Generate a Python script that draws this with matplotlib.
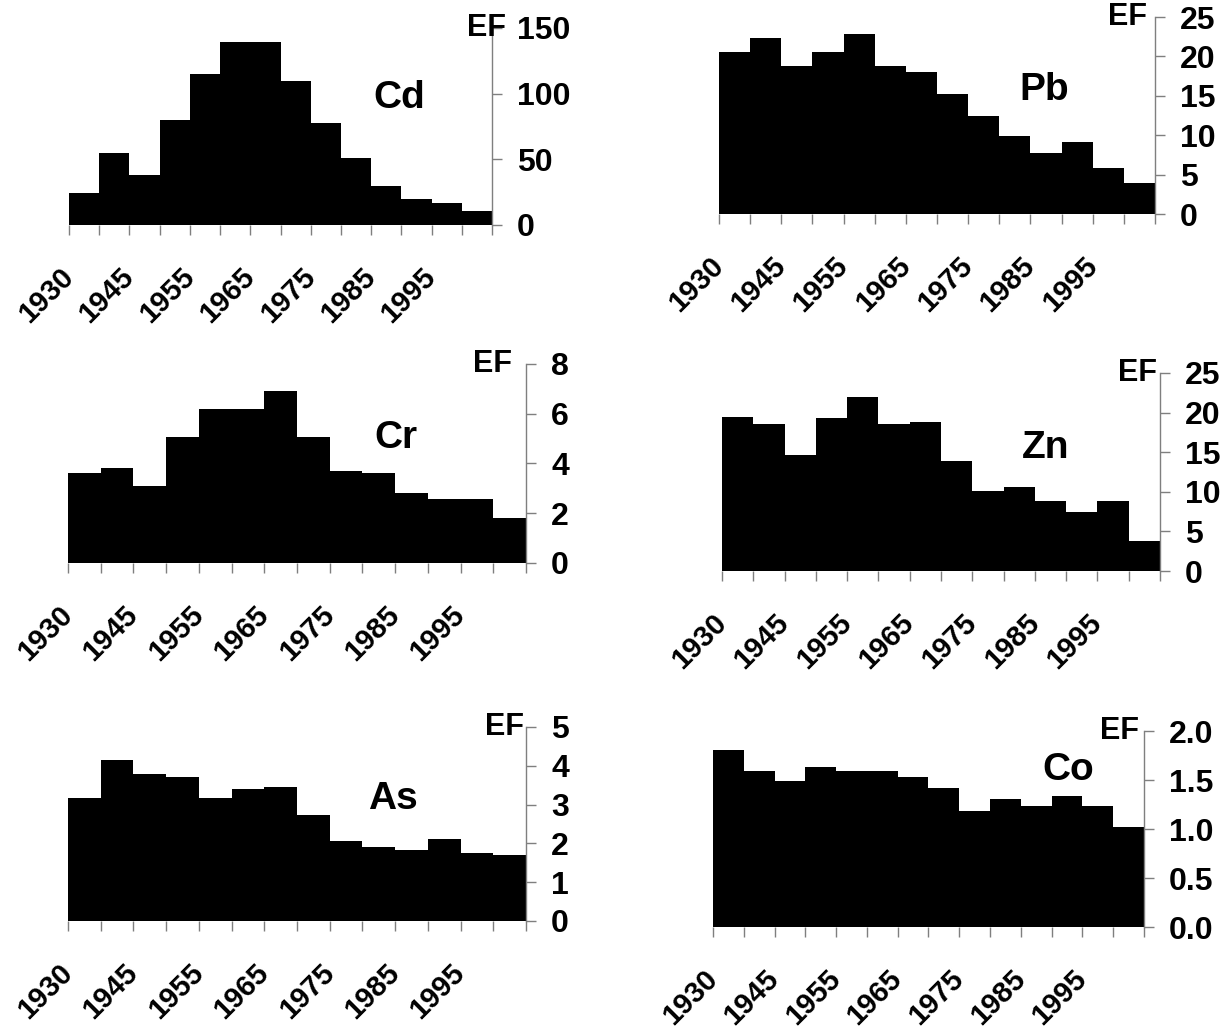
import matplotlib
matplotlib.use("Agg")
import matplotlib.pyplot as plt
from matplotlib.ticker import FormatStrFormatter

plt.rcParams['font.family'] = ['Liberation Sans', 'DejaVu Sans']
plt.rcParams['font.weight'] = 'bold'

# x axis: 14 bins, labels on every second bin edge
year_labels = ['1930', '1945', '1955', '1965', '1975', '1985', '1995']

# enrichment factors per bin
cd = [24, 55, 38, 80, 115, 139, 139, 110, 78, 51, 30, 19.5, 16.5, 10.5]
pb = [20.5, 22.3, 18.8, 20.5, 22.8, 18.8, 18.0, 15.2, 12.4, 9.9, 7.7, 9.2, 5.9, 3.9]
cr = [3.62, 3.8, 3.09, 5.07, 6.21, 6.21, 6.93, 5.07, 3.70, 3.62, 2.82, 2.59, 2.59, 1.79]
zn = [19.5, 18.5, 14.7, 19.3, 22.0, 18.5, 18.8, 13.9, 10.1, 10.6, 8.9, 7.4, 8.9, 3.8]
as_vals = [3.18, 4.16, 3.80, 3.70, 3.18, 3.40, 3.44, 2.72, 2.06, 1.90, 1.84, 2.10, 1.75, 1.70]
co = [1.81, 1.59, 1.49, 1.63, 1.59, 1.59, 1.53, 1.42, 1.18, 1.31, 1.24, 1.34, 1.24, 1.02]

elements = ['Cd', 'Pb', 'Cr', 'Zn', 'As', 'Co']
series = [cd, pb, cr, zn, as_vals, co]
y_max = [150, 25, 8, 25, 5, 2.0]
y_step = [50, 5, 2, 5, 1, 0.5]

# panel layout in figure fractions: left, bottom, width, height
panel_pos = [
    [0.0564, 0.7820, 0.3456, 0.1909],
    [0.5874, 0.7926, 0.3562, 0.1909],
    [0.0556, 0.4545, 0.3742, 0.1928],
    [0.5899, 0.4467, 0.3578, 0.1919],
    [0.0556, 0.1076, 0.3742, 0.1880],
    [0.5825, 0.1017, 0.3521, 0.1899],
]
# element name position (axes fraction) and EF offset (pixels)
name_pos = [(0.78, 0.645), (0.745, 0.63), (0.715, 0.63), (0.74, 0.62), (0.71, 0.63), (0.825, 0.80)]
ef_dx = [14, -8, -14, -3, -2, -5]

XTICK_SIZE = 21
YTICK_SIZE = 23
EF_SIZE = 22
NAME_SIZE = 28
GREY = '#7f7f7f'


def draw_panel(fig, pos, values, name, npos, ymax, ystep, dx):
    ax = fig.add_axes(pos)
    n = len(values)
    edges = list(range(n + 1))
    ax.bar(edges[:-1], values, width=1, align='edge', color='black', linewidth=0)
    ax.set_xlim(0, n)
    ax.set_ylim(0, ymax)

    # spines: only the right one stays
    for side in ['left', 'top', 'bottom']:
        ax.spines[side].set_visible(False)
    ax.spines['right'].set_color(GREY)
    ax.spines['right'].set_linewidth(1)

    # y axis on the right
    ax.yaxis.tick_right()
    yt = [i * ystep for i in range(int(round(ymax / ystep)) + 1)]
    ax.set_yticks(yt)
    if ystep < 1:
        ax.yaxis.set_major_formatter(FormatStrFormatter('%.1f'))
    ax.tick_params(axis='y', direction='out', length=7, width=1, color=GREY,
                   pad=11, labelsize=YTICK_SIZE)

    # x ticks at every bin edge, labels at every second
    labels = []
    for i in edges:
        if i % 2 == 0 and i // 2 < len(year_labels):
            labels.append(year_labels[i // 2])
        else:
            labels.append('')
    ax.set_xticks(edges)
    ax.set_xticklabels(labels)
    ax.tick_params(axis='x', direction='out', length=7, width=1, color=GREY,
                   pad=27, labelsize=XTICK_SIZE)
    for lab in ax.get_xticklabels():
        lab.set_rotation(45)
        lab.set_ha('right')
        lab.set_va('center')
        lab.set_rotation_mode('anchor')

    ax.annotate('EF', xy=(1, 1), xycoords='axes fraction', xytext=(dx, 0),
                textcoords='offset pixels', ha='right', va='center',
                fontsize=EF_SIZE, fontweight='bold')
    ax.text(npos[0], npos[1], name, transform=ax.transAxes, ha='center', va='center',
            fontsize=NAME_SIZE, fontweight='bold')
    return ax


fig = plt.figure(figsize=(12.24, 10.32), dpi=100)
for i in range(len(elements)):
    draw_panel(fig, panel_pos[i], series[i], elements[i], name_pos[i],
               y_max[i], y_step[i], ef_dx[i])

fig.savefig('out.png', dpi=100)
